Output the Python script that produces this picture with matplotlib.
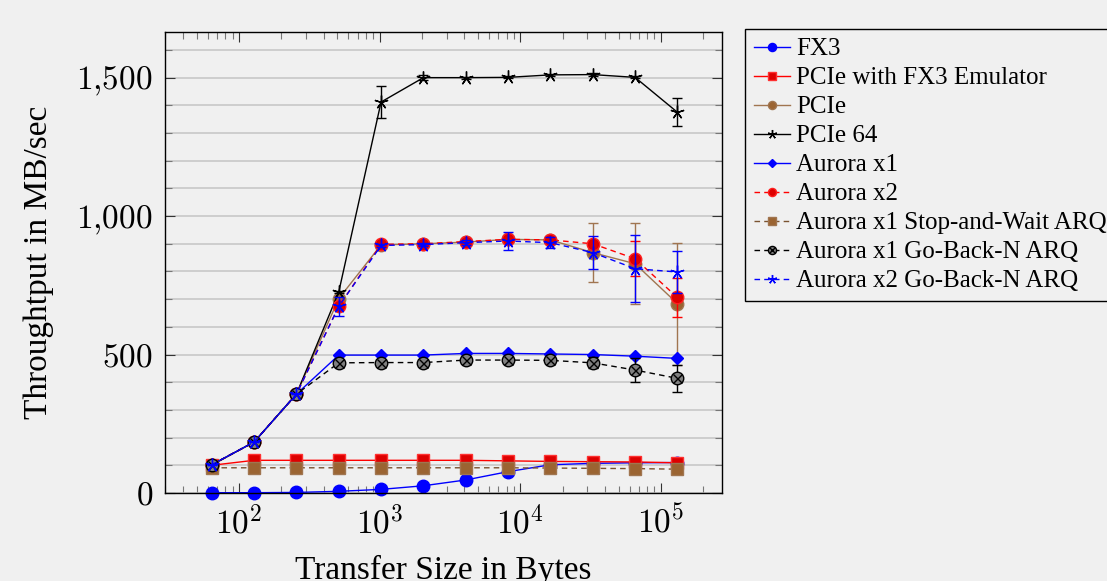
import numpy as np
import matplotlib
matplotlib.use('Agg')
import matplotlib.pyplot as plt
from matplotlib.ticker import FixedLocator, FixedFormatter, MultipleLocator, LogLocator, NullFormatter
from matplotlib.legend_handler import HandlerTuple

plt.rcParams['font.family'] = ['Liberation Serif', 'DejaVu Serif']
plt.rcParams['mathtext.fontset'] = 'cm'

# transfer sizes in bytes
sizes = [64, 128, 256, 512, 1024, 2048, 4096, 8192, 16384, 32768, 65536, 131072]

# throughput in MB/sec
fx3 = [1, 1, 2, 6, 13, 26, 47, 77, 102, 107, 109, 110]
pcie_emu = [100, 118, 118, 118, 118, 118, 118, 116, 114, 113, 112, 109]
pcie = [100, 184, 357, 702, 896, 900, 906, 916, 914, 868, 828, 684]
pcie_err = [0, 0, 0, 5, 5, 5, 5, 8, 10, 107, 146, 220]
pcie64 = [102, 184, 357, 726, 1412, 1500, 1500, 1501, 1510, 1511, 1501, 1375]
pcie64_err = [0, 0, 0, 5, 57, 8, 4, 4, 4, 4, 4, 50]
aurora_x1 = [102, 184, 357, 498, 498, 498, 504, 504, 502, 500, 494, 486]
aurora_x2 = [102, 184, 357, 674, 898, 900, 908, 916, 914, 900, 846, 706]
aurora_x2_err = [0, 0, 0, 10, 5, 5, 5, 8, 8, 15, 63, 70]
saw_x1 = [91, 91, 91, 91, 91, 91, 91, 91, 90, 89, 88, 86]
gbn_x1 = [102, 184, 357, 470, 471, 471, 480, 480, 479, 470, 444, 414]
gbn_x1_err = [0, 0, 0, 3, 3, 3, 3, 3, 3, 20, 43, 50]
gbn_x2 = [102, 184, 357, 674, 894, 897, 904, 910, 904, 868, 810, 798]
gbn_x2_err = [0, 0, 0, 34, 5, 5, 8, 34, 20, 60, 121, 76]

ytick_vals = [0, 500, 1000, 1500]
ytick_labels = [r'$0$', r'$500$', r'$1{,}000$', r'$1{,}500$']
xtick_vals = [1e2, 1e3, 1e4, 1e5]
xtick_labels = [r'$10^{2}$', r'$10^{3}$', r'$10^{4}$', r'$10^{5}$']

bg = '#f0f0f0'
brown = '#a07550'
brown_mk = '#9b6432'
lw = 1.0
ms = 9
dash = (0, (4, 3))

fig = plt.figure(figsize=(11.07, 5.81), dpi=100, facecolor=bg)
ax = fig.add_axes([0.1495, 0.1515, 0.5027, 0.7935])
ax.set_facecolor(bg)
ax.set_xscale('log')

ebkw = dict(fmt='none', capsize=3.6, elinewidth=1.0, capthick=1.0)

h_fx3, = ax.plot(sizes, fx3, color='blue', lw=lw, marker='o', ms=ms, mfc='blue', mec='blue',
                 clip_on=False, label='FX3')
h_emu, = ax.plot(sizes, pcie_emu, color='red', lw=lw, marker='s', ms=ms, mfc='#dd0000', mec='#ff3030',
                 label='PCIe with FX3 Emulator')
ax.errorbar(sizes, pcie, yerr=pcie_err, ecolor=brown, **ebkw)
h_pcie, = ax.plot(sizes, pcie, color=brown, lw=lw, marker='o', ms=ms, mfc=brown_mk, mec=brown,
                  label='PCIe')
ax.errorbar(sizes, pcie64, yerr=pcie64_err, ecolor='black', **ebkw)
h_p64, = ax.plot(sizes, pcie64, color='black', lw=lw, marker=(5, 2, 0), ms=ms + 1, mew=1.0,
                 label='PCIe 64')
h_ax1, = ax.plot(sizes, aurora_x1, color='blue', lw=lw, marker='D', ms=6.5, mfc='blue', mec='blue',
                 label='Aurora x1')
ax.errorbar(sizes, aurora_x2, yerr=aurora_x2_err, ecolor='red', **ebkw)
h_ax2, = ax.plot(sizes, aurora_x2, color='red', lw=lw, ls=dash, marker='o', ms=ms, mfc='#dd0000',
                 mec='#ff2020', label='Aurora x2')
h_saw, = ax.plot(sizes, saw_x1, color='#7a5230', lw=lw, ls=dash, marker='s', ms=ms, mfc=brown_mk,
                 mec=brown, label='Aurora x1 Stop-and-Wait ARQ')
ax.errorbar(sizes, gbn_x1, yerr=gbn_x1_err, ecolor='black', **ebkw)
h_g1, = ax.plot(sizes, gbn_x1, color='black', lw=lw, ls=dash, marker='o', ms=ms, mfc='#808080',
                mec='black', mew=1.0, label='Aurora x1 Go-Back-N ARQ')
h_g1x, = ax.plot(sizes, gbn_x1, ls='none', marker='x', ms=ms * 0.72, mec='black', mew=1.0)
ax.errorbar(sizes, gbn_x2, yerr=gbn_x2_err, ecolor='blue', **ebkw)
h_g2, = ax.plot(sizes, gbn_x2, color='blue', lw=lw, ls=dash, marker=(5, 2, 0), ms=ms + 1, mew=1.0,
                label='Aurora x2 Go-Back-N ARQ')

ax.set_xlim(30, 2.72e5)
ax.set_ylim(0, 1665)

ax.xaxis.set_major_locator(FixedLocator(xtick_vals))
ax.xaxis.set_major_formatter(FixedFormatter(xtick_labels))
ax.xaxis.set_minor_locator(LogLocator(base=10, subs=np.arange(2, 10)))
ax.xaxis.set_minor_formatter(NullFormatter())
ax.yaxis.set_major_locator(FixedLocator(ytick_vals))
ax.yaxis.set_major_formatter(FixedFormatter(ytick_labels))
ax.yaxis.set_minor_locator(MultipleLocator(100))

ax.tick_params(which='both', direction='in', top=True, right=True, labelsize=24)
ax.tick_params(which='major', length=7, width=0.8, color='#333333')
ax.tick_params(which='minor', length=5, width=0.8, color='#777777')
ax.tick_params(axis='x', which='major', pad=9)
ax.tick_params(axis='y', which='major', pad=9)

ax.grid(axis='y', which='both', color='#c4c4c4', lw=1.1)
ax.set_axisbelow(True)
for s in ax.spines.values():
    s.set_linewidth(1.0)
    s.set_color('black')

ax.set_xlabel('Transfer Size in Bytes', fontsize=24, labelpad=10)
ax.set_ylabel('Throughtput in MB/sec', fontsize=24, labelpad=16)

handles = [h_fx3, h_emu, h_pcie, h_p64, h_ax1, h_ax2, h_saw, (h_g1, h_g1x), h_g2]
labels = [h.get_label() for h in handles[:7]] + ['Aurora x1 Go-Back-N ARQ', 'Aurora x2 Go-Back-N ARQ']
leg = fig.legend(handles, labels, loc='upper left', bbox_to_anchor=(745 / 1107, 1 - 29 / 581),
                 fontsize=18, frameon=True, fancybox=False, edgecolor='black', facecolor=bg,
                 framealpha=1, borderpad=0.35, labelspacing=0.26, handlelength=1.45,
                 handletextpad=0.25, markerscale=0.65, borderaxespad=0,
                 handler_map={tuple: HandlerTuple(ndivide=1, pad=0)})
leg.get_frame().set_linewidth(1.0)

fig.savefig('out.png', dpi=100, facecolor=bg)
